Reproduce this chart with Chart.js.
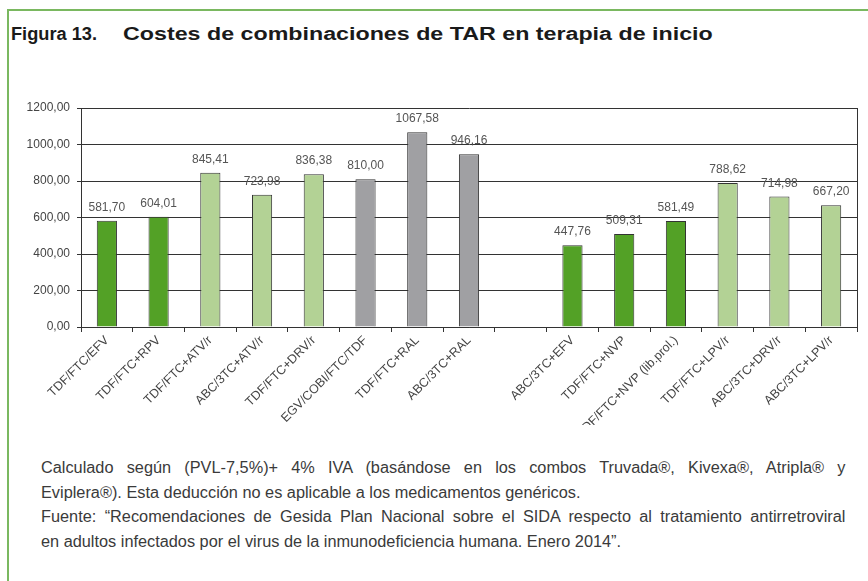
<!DOCTYPE html>
<html>
<head>
<meta charset="utf-8">
<script src="https://cdn.jsdelivr.net/npm/chart.js@4"></script>
<style>
  html, body { margin: 0; padding: 0; background: #fff; }
  body { width: 868px; height: 581px; position: relative; overflow: hidden; font-family: "Liberation Sans", Arial, sans-serif; }
  #frame_top { position: absolute; left: 7px; top: 9px; width: 861px; height: 2px; background: #7ab860; }
  #frame_left { position: absolute; left: 7px; top: 9px; width: 2px; height: 572px; background: #7ab860; }
  .fit { position: absolute; white-space: nowrap; transform-origin: 0 0; }
  .title { top: 25px; font-size: 18px; line-height: 18px; font-weight: bold; color: #1a1a1a; }
  .note { left: 41px; font-size: 16px; line-height: 24.5px; color: #3a3a3a; }
  #chart_wrap { position: absolute; left: 0; top: 88px; width: 868px; height: 337px; }
</style>
</head>
<body>
<div id="frame_top"></div>
<div id="frame_left"></div>

<div class="fit title" style="left:11px" data-w="86">Figura 13.</div>
<div class="fit title" style="left:123px" data-w="590">Costes de combinaciones de TAR en terapia de inicio</div>

<div id="chart_wrap"><canvas id="chart_canvas" width="868" height="337"></canvas></div>

<div class="fit note" id="note1" style="top:456px">Calculado según (PVL-7,5%)+ 4% IVA (basándose en los combos Truvada®, Kivexa®, Atripla® y</div>
<div class="fit note" id="note2" style="top:480.5px">Eviplera®). Esta deducción no es aplicable a los medicamentos genéricos.</div>
<div class="fit note" id="note3" style="top:505px">Fuente: “Recomendaciones de Gesida Plan Nacional sobre el SIDA respecto al tratamiento antirretroviral</div>
<div class="fit note" id="note4" style="top:529.5px">en adultos infectados por el virus de la inmunodeficiencia humana. Enero 2014”.</div>

<script>
// Combinations, left block then gap then right block
const categories = [
  'TDF/FTC/EFV', 'TDF/FTC+RPV', 'TDF/FTC+ATV/r', 'ABC/3TC+ATV/r', 'TDF/FTC+DRV/r',
  'EGV/COBI/FTC/TDF', 'TDF/FTC+RAL', 'ABC/3TC+RAL', '',
  'ABC/3TC+EFV', 'TDF/FTC+NVP', 'TDF/FTC+NVP (lib.prol.)', 'TDF/FTC+LPV/r',
  'ABC/3TC+DRV/r', 'ABC/3TC+LPV/r'
]
const costs = [
  581.70, 604.01, 845.41, 723.98, 836.38,
  810.00, 1067.58, 946.16, null,
  447.76, 509.31, 581.49, 788.62,
  714.98, 667.20
]
const groups = [
  'dark', 'dark', 'light', 'light', 'light',
  'gray', 'gray', 'gray', null,
  'dark', 'dark', 'dark', 'light',
  'light', 'light'
]
const Y_MIN = 0
const Y_MAX = 1200
const Y_STEP = 200

const GROUP_COLORS = {
  dark: 'rgb(83, 161, 38)',
  light: 'rgb(179, 210, 149)',
  gray: 'rgb(160, 160, 163)'
}

const fmt = v => v.toFixed(2).replace('.', ',')

// title: fit each piece to the width measured on the reference
document.querySelectorAll('.title').forEach(el => {
  let target = parseFloat(el.dataset.w)
  el.style.transform = `scaleX(${target / el.scrollWidth})`
})

// footnote: one common condensing factor, justified lines get word spacing
let n2 = document.getElementById('note2')
let n3 = document.getElementById('note3')
let n4 = document.getElementById('note4')
let squeezeShort = (509 / n2.scrollWidth + 546 / n4.scrollWidth) / 2
let squeezeTight = 804 / n3.scrollWidth
let squeeze = Math.sqrt(squeezeShort * squeezeTight)
;['note1', 'note3'].forEach(id => {
  let el = document.getElementById(id)
  let spaces = el.textContent.split(' ').length - 1
  let extra = (804 / squeeze - el.scrollWidth) / spaces
  el.style.wordSpacing = extra + 'px'
})
document.querySelectorAll('.note').forEach(el => {
  el.style.transform = `scaleX(${squeeze})`
})

const valueLabels = {
  id: 'valueLabels',
  afterDatasetsDraw(chart) {
    let ctx = chart.ctx
    let meta = chart.getDatasetMeta(0)
    ctx.save()
    ctx.font = '12px "Liberation Sans", Arial, sans-serif'
    ctx.fillStyle = '#555'
    ctx.textAlign = 'center'
    ctx.textBaseline = 'alphabetic'
    meta.data.forEach((bar, i) => {
      if (costs[i] == null) return
      ctx.fillText(fmt(costs[i]), bar.x, bar.y - 10)
    })
    ctx.restore()
  }
}

const rightBorder = {
  id: 'rightBorder',
  afterDraw(chart) {
    let a = chart.chartArea
    let ctx = chart.ctx
    ctx.save()
    ctx.strokeStyle = '#333'
    ctx.lineWidth = 1
    ctx.beginPath()
    ctx.moveTo(Math.round(a.right) + 0.5, a.top)
    ctx.lineTo(Math.round(a.right) + 0.5, a.bottom)
    ctx.stroke()
    ctx.restore()
  }
}

let ctx = document.getElementById('chart_canvas').getContext('2d')
let chart = new Chart(ctx, {
  type: 'bar',
  data: {
    labels: categories,
    datasets: [{
      data: costs,
      backgroundColor: groups.map(g => g ? GROUP_COLORS[g] : 'transparent'),
      borderColor: '#333',
      borderWidth: 1,
      barPercentage: 0.39,
      categoryPercentage: 1
    }]
  },
  options: {
    responsive: false,
    animation: false,
    layout: { padding: { top: 20, right: 11, left: 0, bottom: 0 } },
    plugins: {
      legend: { display: false },
      tooltip: { enabled: false }
    },
    scales: {
      x: {
        afterFit: s => { s.height = 98 },
        grid: {
          offset: true,
          drawOnChartArea: false,
          drawTicks: true,
          tickLength: 5,
          color: '#333'
        },
        border: { display: true, color: '#333' },
        ticks: {
          autoSkip: false,
          minRotation: 45,
          maxRotation: 45,
          padding: 1,
          color: '#444',
          font: { family: '"Liberation Sans", Arial, sans-serif', size: 12.5 }
        }
      },
      y: {
        min: Y_MIN,
        max: Y_MAX,
        afterFit: s => { s.width = 81 },
        grid: { color: '#333', tickLength: 4, drawTicks: true },
        border: { display: true, color: '#333' },
        ticks: {
          stepSize: Y_STEP,
          padding: 7,
          color: '#444',
          font: { family: '"Liberation Sans", Arial, sans-serif', size: 12 },
          callback: v => fmt(v)
        }
      }
    }
  },
  plugins: [valueLabels, rightBorder]
})
</script>
</body>
</html>
